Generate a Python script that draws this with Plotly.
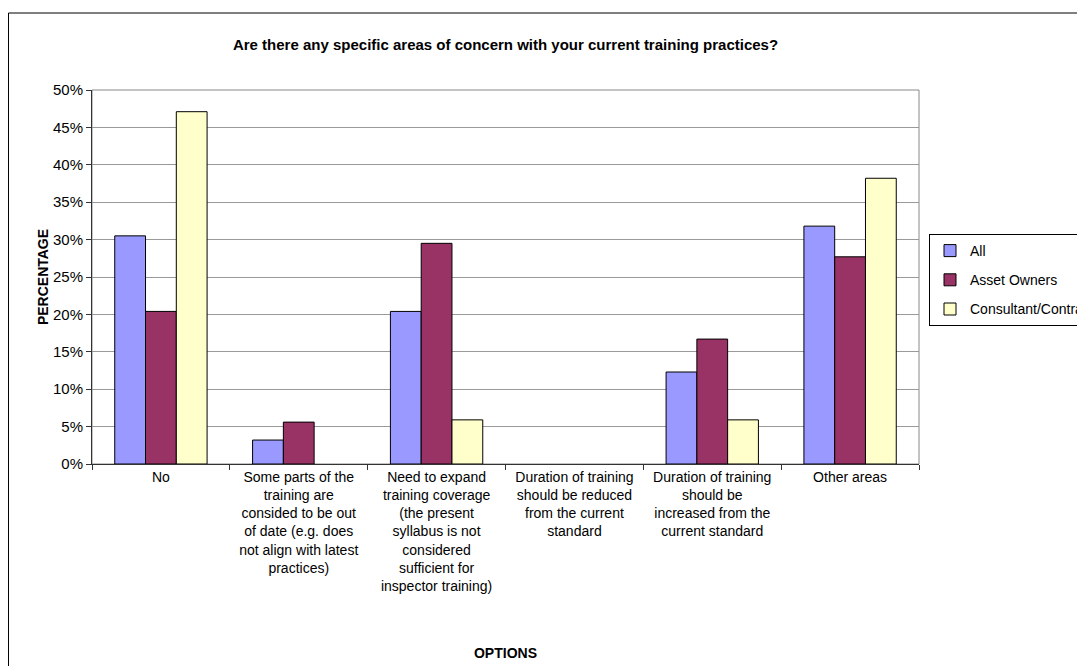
import plotly.graph_objects as go

categories = [
    "No",
    "Some parts of the<br>training are<br>consided to be out<br>of date (e.g. does<br>not align with latest<br>practices)",
    "Need to expand<br>training coverage<br>(the present<br>syllabus is not<br>considered<br>sufficient for<br>inspector training)",
    "Duration of training<br>should be reduced<br>from the current<br>standard",
    "Duration of training<br>should be<br>increased from the<br>current standard",
    "Other areas",
]
series_names = ["All", "Asset Owners", "Consultant/Contractor"]
all_vals = [30.5, 3.2, 20.4, 0.0, 12.3, 31.8]
owner_vals = [20.4, 5.6, 29.5, 0.0, 16.7, 27.7]
consult_vals = [47.1, 0.0, 5.9, 0.0, 5.9, 38.2]
series_colors = ["#9999FF", "#993366", "#FFFFCC"]
y_ticks = [0, 5, 10, 15, 20, 25, 30, 35, 40, 45, 50]
y_ticktext = [f"{v}%" for v in y_ticks]

FONT = "Arial, Liberation Sans, sans-serif"

fig = go.Figure()
for name, vals, col in zip(series_names, [all_vals, owner_vals, consult_vals], series_colors):
    fig.add_trace(go.Bar(
        x=categories, y=vals, name=name, legendgroup=name,
        marker=dict(color=col,
                    line=dict(color="#000000", width=[1 if v > 0 else 0 for v in vals])),
    ))

# page body has an 8px margin; figure coordinates are shifted accordingly
OFF = 8
W, H = 1085 - OFF, 666 - OFF
L, R, T, B = 92 - OFF, 166, 90 - OFF, 202
pw, ph = W - L - R, H - T - B

fig.update_layout(
    width=W, height=H,
    margin=dict(l=L, r=R, t=T, b=B, autoexpand=False),
    paper_bgcolor="white", plot_bgcolor="white",
    barmode="group", bargap=0.33, bargroupgap=0,
    font=dict(family=FONT, size=14, color="#000000"),
    title=dict(
        text="<b>Are there any specific areas of concern with your current training practices?</b>",
        x=(L + pw / 2) / W, xanchor="center", y=1 - (45 - OFF) / H, yanchor="middle",
        font=dict(family=FONT, size=15, color="#000000"),
    ),
    legend=dict(
        x=(929 - OFF - L) / pw, y=(T + ph - (234 - OFF)) / ph, xanchor="left", yanchor="top",
        bgcolor="white", bordercolor="#000000", borderwidth=1,
        font=dict(family=FONT, size=14, color="#000000"),
        tracegroupgap=8, itemclick=False, itemwidth=30,
    ),
    xaxis=dict(
        type="category", showgrid=False, showline=True, linecolor="#333333", linewidth=1,
        ticks="outside", tickson="boundaries", ticklen=5, tickcolor="#333333",
        tickfont=dict(family=FONT, size=14, color="#000000"),
        title=dict(text="<b>OPTIONS</b>", standoff=55, font=dict(family=FONT, size=14, color="#000000")),
        automargin=False,
    ),
    yaxis=dict(
        range=[0, 50], tickvals=y_ticks, ticktext=y_ticktext,
        showgrid=True, gridcolor="#999999", gridwidth=1,
        showline=True, linecolor="#333333", linewidth=1,
        ticks="outside", ticklen=5, tickcolor="#333333",
        tickfont=dict(family=FONT, size=15, color="#000000"),
        title=dict(text="<b>PERCENTAGE</b>", standoff=1, font=dict(family=FONT, size=14, color="#000000")),
        automargin=False, zeroline=False,
    ),
    shapes=[
        dict(type="rect", xref="paper", yref="paper", x0=0, x1=1, y0=0, y1=1,
             line=dict(color="#888888", width=1), layer="below"),
        dict(type="rect", xref="paper", yref="paper",
             x0=(8 - OFF - L) / pw + 0.0006, x1=(W + 20 - L) / pw,
             y0=(T + ph - (H + 20)) / ph, y1=(T + ph - (13 - OFF)) / ph,
             line=dict(color="#000000", width=1), fillcolor="rgba(0,0,0,0)", layer="above"),
    ],
)

fig.write_html("out.html")
